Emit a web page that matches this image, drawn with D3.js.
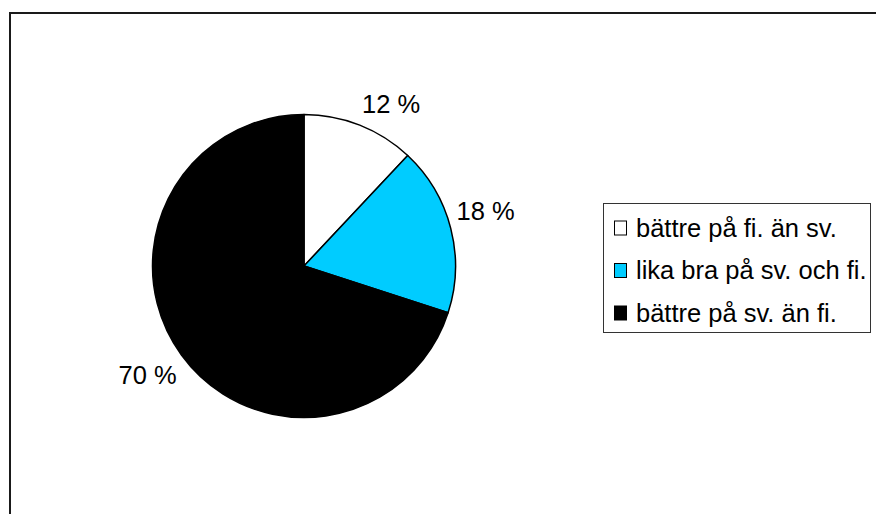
<!DOCTYPE html>
<html>
<head>
<meta charset="utf-8">
<script src="https://cdn.jsdelivr.net/npm/d3@7/dist/d3.min.js"></script>
<style>
  html, body { margin: 0; padding: 0; background: #fff; }
  svg { display: block; font-family: "Liberation Sans", Arial, sans-serif; }
</style>
</head>
<body>
<svg id="chart" width="876" height="514"></svg>
<script>
// Answers: which language the respondent is better at
const categories = ["bättre på fi. än sv.", "lika bra på sv. och fi.", "bättre på sv. än fi."];
const shares = [12, 18, 70];
const sliceColors = ["#ffffff", "#00ccff", "#000000"];

const svg = d3.select("#chart");
const W = 876, H = 514;

// outer chart frame (runs off the right and bottom edges)
svg.append("rect")
  .attr("x", 10).attr("y", 13)
  .attr("width", W + 20).attr("height", H + 20)
  .attr("fill", "#fff")
  .attr("stroke", "#1a1a1a")
  .attr("stroke-width", 2);

const cx = 304, cy = 266, r = 151.5;

const pie = d3.pie().sort(null).value(d => d)(shares);
const arc = d3.arc().innerRadius(0).outerRadius(r);
const color = d3.scaleOrdinal().domain(d3.range(categories.length)).range(sliceColors);

const g = svg.append("g").attr("transform", `translate(${cx},${cy})`);

g.selectAll("path.slice")
  .data(pie)
  .join("path")
  .attr("class", "slice")
  .attr("d", arc)
  .attr("fill", (d, i) => color(i))
  .attr("stroke", "#000")
  .attr("stroke-width", 1.5)
  .attr("stroke-linejoin", "round");

// percentage labels just outside each slice
const fs = 25.5;
g.selectAll("text.pct")
  .data(pie)
  .join("text")
  .attr("class", "pct")
  .each(function (d) {
    const a = (d.startAngle + d.endAngle) / 2;
    const sx = Math.sin(a), c = Math.cos(a);
    const x = sx * (r + 6);
    const y = -c * (r + 6) + (c > 0 ? -16 : 16);
    d3.select(this)
      .attr("x", x)
      .attr("y", y)
      .attr("dy", "0.35em")
      .attr("text-anchor", sx >= 0 ? "start" : "end");
  })
  .attr("font-size", fs)
  .attr("fill", "#000")
  .text(d => d.data + " %");

// legend
const lg = svg.append("g");
lg.append("rect")
  .attr("x", 603.5).attr("y", 203.5)
  .attr("width", 267).attr("height", 129)
  .attr("fill", "#fff")
  .attr("stroke", "#333")
  .attr("stroke-width", 1);

const rowY = d3.scalePoint().domain(d3.range(categories.length)).range([228, 313]);

const rows = lg.selectAll("g.row")
  .data(categories)
  .join("g")
  .attr("class", "row")
  .attr("transform", (d, i) => `translate(0,${rowY(i)})`);

rows.append("rect")
  .attr("x", 614.5).attr("y", -7)
  .attr("width", 12).attr("height", 14)
  .attr("fill", (d, i) => color(i))
  .attr("stroke", "#000")
  .attr("stroke-width", 1);

rows.append("text")
  .attr("x", 636)
  .attr("dy", "0.35em")
  .attr("font-size", fs)
  .attr("fill", "#000")
  .text(d => d);
</script>
</body>
</html>
